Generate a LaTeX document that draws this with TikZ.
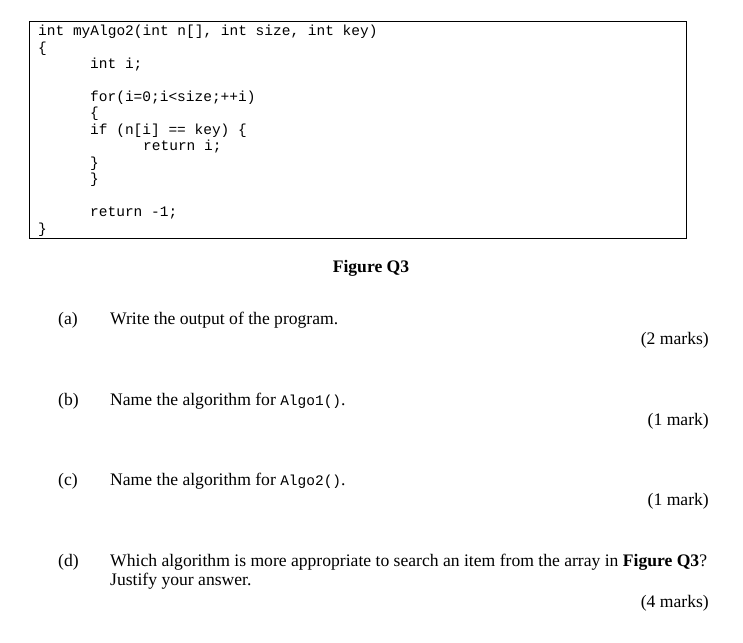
\documentclass[tikz,border=0pt]{standalone}
\usepackage{fontspec}
\setmainfont{Liberation Serif}
\setmonofont{Liberation Mono}
\begin{document}
\begin{tikzpicture}[x=1pt,y=-1pt,
  code/.style={anchor=west,inner sep=0pt,font=\ttfamily\fontsize{14.5}{15}\selectfont},
  txt/.style={anchor=west,inner sep=0pt,font=\fontsize{17.6}{19}\selectfont},
  mk/.style={anchor=east,inner sep=0pt,font=\fontsize{17.6}{19}\selectfont}]
\useasboundingbox (0,0) rectangle (743,642);
\draw[line width=1pt] (29,22) rectangle (686,238);
\node[code] (l1) at (38,32) {int myAlgo2(int n[], int size, int key)};
\node[code] (l2) at (38,49) {\{};
\node[code] (l3) at (90,65) {int i;};
\node[code] (l4) at (90,98) {for(i=0;i<size;++i)};
\node[code] (l5) at (90,114) {\{};
\node[code] (l6) at (90,131) {if (n[i] == key) \{};
\node[code] (l7) at (143,147) {return i;};
\node[code] (l8) at (90,164) {\}};
\node[code] (l9) at (90,180) {\}};
\node[code] (l10) at (90,213) {return -1;};
\node[code] (l11) at (38,230) {\}};
\node[inner sep=0pt,font=\bfseries\fontsize{17.6}{19}\selectfont] (fig) at (371,268) {Figure Q3};
\node[txt] (a) at (58,320) {(a)};
\node[txt] (at) at (110,320) {Write the output of the program.};
\node[mk] (am) at (709,340) {(2 marks)};
\node[txt] (b) at (58,401) {(b)};
\node[txt] (bt) at (110,401) {Name the algorithm for {\ttfamily\fontsize{14.5}{15}\selectfont Algo1()}.};
\node[mk] (bm) at (709,421) {(1 mark)};
\node[txt] (c) at (58,481) {(c)};
\node[txt] (ct) at (110,481) {Name the algorithm for {\ttfamily\fontsize{14.5}{15}\selectfont Algo2()}.};
\node[mk] (cm) at (709,501) {(1 mark)};
\node[txt] (d) at (58,562) {(d)};
\node[txt] (dt) at (110,562) {Which algorithm is more appropriate to search an item from the array in \textbf{Figure Q3}?};
\node[txt] (dt2) at (110,581) {Justify your answer.};
\node[mk] (dm) at (709,603) {(4 marks)};
\end{tikzpicture}
\end{document}
